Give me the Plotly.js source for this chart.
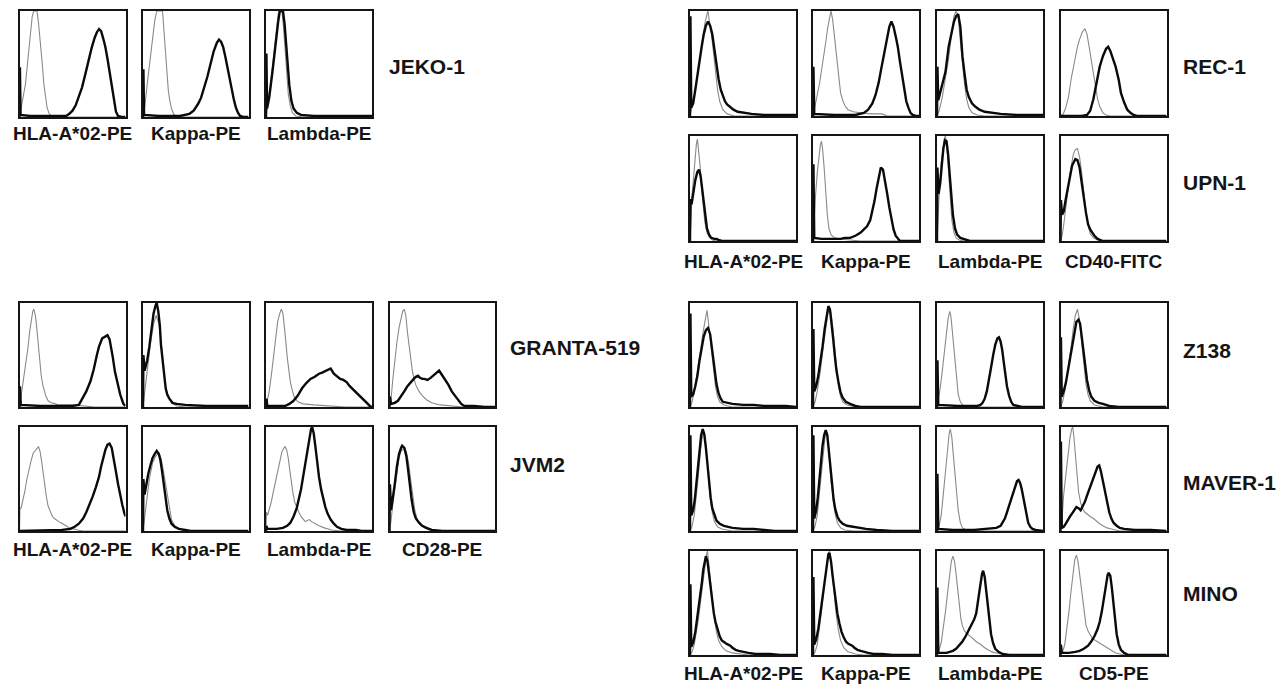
<!DOCTYPE html>
<html>
<head>
<meta charset="utf-8">
<script src="https://cdn.plot.ly/plotly-3.0.1.min.js"></script>
<style>html,body{margin:0;padding:0;background:#fff;}#chart{width:1286px;height:685px;}</style>
</head>
<body>
<div id="chart"></div>
<script>
// ---------- DATA: histogram traces, [fluorescence %, relative count %] ----------
// JEKO-1
const JEKO1_HLA_ISO = [[0,0],[1.5,8],[3,18],[5.6,31],[8,55],[10,79],[12,95],[13.5,100],[16.5,100],[18,88],[19.7,72],[21.5,50],[23,31],[24.5,18],[26,9],[28,3],[30,1],[40,0],[100,0]];
const JEKO1_HLA_STAIN = [[0,0],[0.4,47],[1,2],[10,1],[30,1],[44,1],[47,3],[50,6],[53,11],[56,19],[59,28],[62,40],[65,54],[68,65],[71,75],[73,80],[75,83],[77,81],[79,74],[81,66],[83,55],[85,42],[87,28],[89,14],[91,5],[93,1],[96,0],[100,0]];
const JEKO1_KAPPA_ISO = [[0,0],[1.5,8],[4,31],[6,50],[8.5,69],[11,90],[13,100],[18.5,100],[20,80],[21,63],[22.5,45],[24,25],[25.5,15],[27,8],[29,3],[31,1],[40,0],[100,0]];
const JEKO1_KAPPA_STAIN = [[0,0],[0.4,45],[1,2],[15,1],[35,1],[40,2],[44,3],[48,6],[52,12],[55,18],[58,27],[61,38],[64,50],[67,62],[70,70],[72,73],[74,71],[76,66],[78,57],[80,48],[82,38],[84,27],[86,17],[88,9],[90,4],[92,1],[95,0],[100,0]];
const JEKO1_LAMBDA_ISO = [[0,0],[1.5,10],[4,30],[7,55],[9.5,80],[11.5,97],[12.5,100],[15,100],[16.5,85],[18,62],[19.5,40],[21,22],[23,10],[25,4],[28,1],[35,0],[100,0]];
const JEKO1_LAMBDA_STAIN = [[0,0],[0.4,60],[1,8],[3,18],[6,42],[9,70],[11.5,90],[13,100],[16,100],[17.5,88],[19,68],[20.5,48],[22,30],[24,15],[26,8],[29,4],[33,2],[45,1],[70,1],[100,1]];
// REC-1
const REC1_HLA_ISO = [[0,0],[2,8],[4,18],[7,38],[10,60],[12,75],[14,88],[16,97],[17,100],[18,92],[20,80],[22,62],[24,42],[26,25],[28,14],[31,6],[35,2],[42,0],[100,0]];
const REC1_HLA_STAIN = [[0,0],[0.4,95],[1.2,8],[3,12],[5,25],[7,40],[9,55],[11,66],[13,78],[15,86],[17,90],[19,86],[21,78],[23,62],[25,47],[27,35],[29,25],[31,19],[33,14],[35,11],[38,8],[41,6],[45,4],[50,3],[58,2],[70,1],[100,1]];
const REC1_KAPPA_ISO = [[0,0],[2,12],[4,20],[6,30],[8,42],[10,58],[12,70],[14,85],[16,96],[17,100],[18.5,92],[20,78],[22,57],[24,36],[26,22],[28,15],[30,10],[33,6],[38,4],[45,3],[55,2],[65,2],[70,0],[100,0]];
const REC1_KAPPA_STAIN = [[0,0],[0.4,47],[1.2,2],[20,1],[40,1],[48,3],[52,6],[56,12],[59,20],[62,32],[64,43],[66,54],[68,66],[70,76],[72,85],[74,90],[76,85],[78,76],[80,66],[82,52],[84,38],[86,24],[88,14],[90,8],[92,3],[94,1],[97,0],[100,0]];
const REC1_LAMBDA_ISO = [[0,0],[2,5],[5,18],[8,35],[11,55],[14,80],[16,95],[18,100],[20,95],[22,72],[24,50],[26,30],[28,16],[30,8],[33,3],[38,1],[45,0],[100,0]];
const REC1_LAMBDA_STAIN = [[0,0],[0.4,47],[1.2,15],[3,22],[6,32],[8,42],[11,66],[14,80],[16,90],[18,95],[20,97],[22,85],[24,57],[26,40],[28,25],[30,18],[33,12],[36,9],[40,6],[45,4],[52,3],[60,2],[75,1],[100,1]];
const REC1_CD40_ISO = [[0,0],[2.6,2],[5,8],[7.5,18],[10,35],[13,52],[16,66],[18,73],[20.5,80],[23,83],[25,78],[27,66],[29,54],[31,40],[33,27],[35,16],[37,9],[40,3],[43,1],[47,0],[100,0]];
const REC1_CD40_STAIN = [[0,0],[20,0],[25,1],[28,5],[31,16],[34,30],[37,47],[40,57],[43,64],[45,66],[47,62],[50,53],[52,47],[55,34],[57,22],[60,13],[63,6],[66,3],[69,1],[72,0],[100,0]];
// UPN-1
const UPN1_HLA_ISO = [[0,0],[1,25],[2,45],[3.5,62],[5,82],[6,92],[7,97],[8,88],[9.5,72],[11,50],[12.5,32],[14,18],[16,8],[18,4],[21,1],[25,0],[100,0]];
const UPN1_HLA_STAIN = [[0,0],[0.4,40],[1.5,35],[3,45],[5,58],[7,66],[8.5,68],[10,62],[11.5,50],[13,35],[14.5,22],[16,12],[18,6],[20,3],[23,2],[25,2],[27,1],[30,0],[100,0]];
const UPN1_KAPPA_ISO = [[0,0],[1,20],[2.5,45],[4,65],[5.5,82],[7,92],[8,95],[9,88],[10.5,70],[12,45],[13.5,25],[15,12],[17,6],[20,3],[25,2],[35,1],[45,0],[100,0]];
const UPN1_KAPPA_STAIN = [[0,0],[0.4,73],[1.2,3],[8,2],[20,2],[26,2],[30,3],[35,3],[40,5],[45,8],[48,11],[51,14],[54,20],[56,28],[58,38],[60,50],[62,62],[64,70],[66,68],[68,58],[70,45],[72,32],[74,20],[76,11],[78,5],[80,2],[82,0],[100,0]];
const UPN1_LAMBDA_ISO = [[0,0],[1,30],[2.5,55],[4,75],[5.5,90],[7,98],[8,100],[9.5,88],[11,65],[12.5,40],[14,20],[16,8],[18,3],[21,1],[25,0],[100,0]];
const UPN1_LAMBDA_STAIN = [[0,0],[0.4,70],[1.5,45],[3,55],[4.5,72],[6,88],[7.5,96],[9,95],[10.5,82],[12,62],[13.5,42],[15,25],[17,12],[19,6],[22,3],[25,2],[28,1],[31,0],[100,0]];
const UPN1_CD40_ISO = [[0,0],[1.5,5],[3,15],[6,40],[9,65],[12,82],[14,87],[16,88],[18,80],[20,65],[22,45],[24,28],[26,15],[28,7],[31,3],[35,1],[40,0],[100,0]];
const UPN1_CD40_STAIN = [[0,0],[0.4,39],[1.5,25],[3,28],[5,40],[8,58],[11,72],[14,78],[16,77],[18,70],[20,55],[22,40],[24,27],[26,16],[28,11],[30,8],[32,5],[35,2],[40,0],[100,0]];
// GRANTA-519
const GRANTA_HLA_ISO = [[0,0],[1.5,10],[3,20],[5,35],[6.5,47],[8,57],[9.5,72],[11,85],[12.5,92],[13.5,94],[15,88],[16,79],[17.5,62],[19,44],[20.5,30],[22,21],[23.5,15],[25,10],[27,6],[30,4],[34,3],[37,2],[50,2],[60,1],[71,0],[100,0]];
const GRANTA_HLA_STAIN = [[0,0],[0.4,20],[1.2,2],[20,1],[40,1],[50,1],[56,2],[60,9],[63,15],[67,25],[70,36],[73,50],[75,58],[78,66],[80,67],[82,68],[83,69],[85,65],[86,60],[88,48],[90,34],[92,24],[94,15],[95,12],[97,6],[98,3],[100,1]];
const GRANTA_KAPPA_ISO = [[0,0],[2,15],[4,35],[7,60],[10,80],[12.5,88],[15,80],[16.5,68],[18,55],[20,30],[22,17],[24,10],[27,4],[32,1],[40,0],[100,0]];
const GRANTA_KAPPA_STAIN = [[0,0],[0.4,50],[1.5,35],[4,45],[6,58],[8,75],[10,90],[12,98],[13,100],[14.5,92],[16,78],[17,60],[18.5,45],[20,30],[21.5,18],[23,12],[25,8],[28,4],[32,3],[40,2],[60,1],[100,1]];
const GRANTA_LAMBDA_ISO = [[0,0],[1,5],[3,15],[5,30],[7,48],[9,65],[11,82],[13,90],[14.5,94],[16,90],[17,82],[18.5,65],[20,48],[21.5,35],[23,24],[25,15],[27,9],[30,5],[35,3],[45,2],[60,1],[75,0],[100,0]];
const GRANTA_LAMBDA_STAIN = [[0,0],[0.4,8],[1.2,1],[12,1],[18,1],[22,3],[26,6],[30,11],[34,18],[38,23],[42,27],[46,29],[50,32],[53,33],[57,35],[61,37],[64,32],[67,29],[70,27],[73,26],[76,24],[79,20],[82,17],[85,14],[88,11],[91,8],[94,4],[96,2],[98,1],[100,0]];
const GRANTA_CD28_ISO = [[0,0],[1.5,8],[3,25],[5,45],[7,62],[9,76],[11,87],[12.5,92],[14,94],[15.5,88],[17,72],[18.5,58],[20,45],[21.5,36],[23,28],[25,21],[28,15],[31,11],[35,7],[40,4],[48,2],[60,1],[70,0],[100,0]];
const GRANTA_CD28_STAIN = [[0,0],[0.4,10],[1.5,3],[5,4],[8,6],[11,10],[14,15],[17,20],[20,24],[23,27],[25,29],[27,30],[29,28],[31,27],[33,27],[36,26],[39,28],[42,31],[45,34],[47,35],[49,32],[51,29],[53,26],[56,21],[59,15],[62,11],[65,6],[68,3],[71,1],[80,1],[90,0],[100,0]];
// JVM2
const JVM2_HLA_ISO = [[0,0],[0.4,22],[1.5,22],[3,28],[5,38],[7,50],[9,60],[11,68],[13,75],[15,78],[17,80],[18,81],[19.5,76],[21,66],[22.5,54],[24,42],[25.5,32],[27,24],[29,18],[31,14],[33,12],[35,10],[37,9],[39,8],[41,7],[44,5],[47,3],[50,2],[55,1],[60,0],[100,0]];
const JVM2_HLA_STAIN = [[0,0],[40,1],[48,2],[52,4],[56,7],[60,12],[63,18],[66,25],[69,33],[72,42],[75,52],[77,62],[79,70],[81,78],[83,83],[85,84],[87,80],[89,70],[91,57],[93,45],[95,34],[97,25],[99,17],[100,14]];
const JVM2_KAPPA_ISO = [[0,0],[1.5,12],[3,28],[6,50],[9,65],[12,72],[15,75],[17,70],[19,60],[21,48],[23,32],[25,20],[27,11],[30,5],[34,2],[40,0],[100,0]];
const JVM2_KAPPA_STAIN = [[0,0],[0.4,50],[1.5,35],[3,45],[5,55],[7,63],[9,70],[11,74],[13,77],[15,74],[16.5,68],[18,58],[19.5,45],[21,33],[23,20],[25,12],[27,7],[30,4],[34,2],[40,1],[45,0],[100,0]];
const JVM2_LAMBDA_ISO = [[0,0],[0.4,18],[1.5,15],[3,20],[5,28],[7,38],[9,48],[11,58],[13,68],[15,76],[17,80],[18,81],[19.5,78],[21,70],[22.5,58],[24,46],[25.5,36],[27,28],[29,22],[31,18],[33,14],[35,11],[37,9],[39,10],[41,11],[43,9],[46,7],[50,5],[55,3],[62,1],[70,0],[100,0]];
const JVM2_LAMBDA_STAIN = [[0,0],[0.4,5],[1.2,2],[10,2],[16,3],[20,5],[23,8],[26,14],[29,22],[31,30],[33,40],[35,52],[37,64],[39,78],[41,90],[42.5,98],[43.5,100],[45,94],[46.5,82],[48,66],[50,52],[52,40],[54,30],[56,23],[58,17],[61,11],[64,7],[67,4],[71,2],[76,1],[85,1],[90,0],[100,0]];
const JVM2_CD28_ISO = [[0,0],[1.5,10],[3,25],[5,42],[7,58],[9,70],[11,77],[13,79],[14.5,80],[16,76],[18,66],[20,50],[22,34],[24,20],[26,12],[29,6],[33,3],[38,1],[45,0],[100,0]];
const JVM2_CD28_STAIN = [[0,0],[0.4,45],[1.5,20],[3,30],[5,45],[7,62],[9,74],[11,80],[12,82],[14,80],[16,72],[17.5,60],[19,45],[21,30],[23,18],[25,12],[28,8],[31,5],[35,3],[40,1],[50,0],[100,0]];
// Z138
const Z138_HLA_ISO = [[0,0],[2,5],[4,15],[6,27],[8,40],[10,55],[12,70],[14,84],[15,90],[16,93],[17,85],[18,75],[20,55],[22,35],[24,20],[26,10],[28,5],[32,2],[40,0],[100,0]];
const Z138_HLA_STAIN = [[0,0],[0.4,90],[1.2,10],[3,12],[5,20],[7,30],[9,45],[11,58],[13,68],[15,74],[17,76],[19,70],[21,55],[23,38],[25,22],[27,13],[29,8],[31,5],[35,4],[40,3],[50,2],[60,2],[70,1],[90,1],[100,0]];
const Z138_KAPPA_ISO = [[0,0],[2,5],[4,15],[7,35],[10,60],[12,78],[14,90],[16,95],[17,90],[18.5,78],[20,60],[22,38],[24,20],[26,10],[28,5],[32,2],[40,0],[100,0]];
const Z138_KAPPA_STAIN = [[0,0],[0.4,75],[1.2,15],[3,20],[5,30],[7,42],[9,58],[11,75],[13,88],[14.5,97],[16,94],[17.5,82],[19,66],[20.5,50],[22,36],[24,24],[26,14],[28,9],[31,5],[35,3],[40,1],[45,0],[100,0]];
const Z138_LAMBDA_ISO = [[0,0],[1.5,8],[3,18],[5,35],[7,55],[9,72],[10.5,85],[12,92],[13,88],[14,78],[15.5,60],[17,40],[18.5,24],[20,12],[22,5],[25,1],[30,0],[100,0]];
const Z138_LAMBDA_STAIN = [[0,0],[0.4,45],[1.2,2],[20,1],[38,1],[41,2],[43,4],[45,8],[47,15],[49,25],[51,38],[53,50],[55,60],[57,66],[58.5,67],[60,63],[61.5,55],[63,43],[64.5,30],[66,20],[68,11],[70,5],[72,2],[75,1],[80,0],[100,0]];
const Z138_CD5_ISO = [[0,0],[2,5],[4,15],[6,28],[8,42],[10,58],[12,75],[14,88],[16,94],[17.5,86],[19,72],[20.5,56],[22,38],[24,22],[26,12],[28,6],[32,2],[40,0],[100,0]];
const Z138_CD5_STAIN = [[0,0],[0.4,67],[1.2,10],[3,15],[5,23],[7,35],[9,50],[11,62],[13,74],[15,82],[17,84],[18.5,80],[20,68],[21.5,55],[23,40],[25,26],[27,16],[29,10],[32,6],[36,4],[40,3],[46,1],[55,0],[100,0]];
// MAVER-1
const MAVER1_HLA_ISO = [[0,0],[2,5],[4,15],[6,32],[8,55],[10,78],[11.5,90],[13,95],[14.5,88],[16,70],[17.5,50],[19,32],[21,18],[23,9],[26,4],[30,2],[40,0],[100,0]];
const MAVER1_HLA_STAIN = [[0,0],[0.4,92],[1.2,15],[3,20],[4.5,30],[6,45],[7.5,62],[9,80],[10.5,92],[12,98],[13.5,93],[15,80],[16.5,62],[18,45],[19.5,32],[21,22],[23,15],[25,10],[28,7],[32,5],[36,4],[40,3],[50,2],[60,2],[70,1],[80,0],[100,0]];
const MAVER1_KAPPA_ISO = [[0,0],[2,5],[4,15],[6,35],[8,60],[10,82],[11.5,92],[12.5,95],[14,88],[15.5,70],[17,48],[19,30],[21,16],[23,8],[26,3],[30,1],[38,0],[100,0]];
const MAVER1_KAPPA_STAIN = [[0,0],[0.4,92],[1.2,12],[3,20],[4.5,32],[6,50],[7.5,68],[9,82],[10.5,92],[12,97],[13.5,92],[15,76],[16.5,58],[18,42],[19.5,30],[21,21],[23,14],[25,10],[28,7],[32,5],[37,4],[42,3],[50,2],[60,1],[75,0],[100,0]];
const MAVER1_LAMBDA_ISO = [[0,0],[2,5],[4,15],[6,35],[8,60],[10,82],[11.5,94],[12.5,98],[14,90],[15.5,72],[17,52],[18.5,35],[20,20],[22,8],[24,3],[28,1],[35,0],[100,0]];
const MAVER1_LAMBDA_STAIN = [[0,0],[0.4,55],[1.2,2],[15,1],[35,1],[45,2],[52,2],[56,3],[60,5],[62,8],[64,12],[66,18],[68,24],[70,31],[72,38],[74,44],[75.5,48],[77,49],[78.5,46],[80,40],[81.5,32],[83,22],[84.5,14],[86,8],[88,4],[90,2],[93,1],[100,0]];
const MAVER1_CD5_ISO = [[0,0],[1.5,12],[3,35],[5,55],[7,75],[9,90],[10.5,98],[11.5,100],[12.5,92],[14,75],[15.5,55],[17,38],[19,27],[21,21],[23,18],[25,16],[28,14],[31,12],[34,9],[37,7],[40,5],[44,3],[48,2],[52,1],[56,0],[100,0]];
const MAVER1_CD5_STAIN = [[0,0],[0.4,86],[1.2,3],[3,4],[5,7],[7,11],[9,14],[11,17],[13,20],[15,23],[17,22],[19,20],[21,24],[23,28],[25,34],[27,40],[29,45],[31,50],[33,56],[35,62],[36.5,63],[38,58],[40,48],[42,37],[44,26],[46,18],[48,12],[50,8],[53,5],[56,3],[60,2],[70,1],[85,1],[95,0],[100,0]];
// MINO
const MINO_HLA_ISO = [[0,0],[2,3],[4,10],[6,22],[8,35],[10,52],[12,70],[14,88],[15.5,96],[16.5,100],[18,85],[19.5,68],[21,52],[23,35],[25,22],[27,14],[30,8],[34,4],[40,2],[48,1],[55,0],[100,0]];
const MINO_HLA_STAIN = [[0,0],[0.4,68],[1.2,8],[3,12],[5,22],[7,36],[9,52],[11,68],[12.5,82],[14,92],[15,95],[16.5,90],[18,78],[19.5,64],[21,50],[22.5,40],[24,32],[26,24],[28,18],[30,14],[32,12],[34,11],[36,10],[38,9],[40,7],[43,5],[46,4],[50,3],[55,2],[62,1],[75,1],[85,0],[100,0]];
const MINO_KAPPA_ISO = [[0,0],[2,3],[4,10],[6,25],[8,42],[10,62],[12,80],[14,93],[15.5,100],[17,92],[18.5,75],[20,56],[22,38],[24,24],[26,14],[29,7],[33,3],[40,1],[48,0],[100,0]];
const MINO_KAPPA_STAIN = [[0,0],[0.4,75],[1.2,10],[3,15],[5,25],[7,40],[9,58],[11,75],[13,90],[14.5,97],[15.5,98],[17,90],[18.5,76],[20,62],[21.5,50],[23,40],[25,30],[27,22],[29,17],[31,13],[33,11],[35,10],[37,9],[39,7],[42,5],[45,4],[48,3],[52,2],[57,1],[65,1],[75,0],[100,0]];
const MINO_LAMBDA_ISO = [[0,0],[2,5],[4,12],[6,25],[8,42],[10,60],[12,80],[13.5,90],[15,95],[16.5,90],[18,78],[19.5,62],[21,46],[22.5,35],[24,28],[26,23],[28,21],[30,19],[32,18],[34,16],[36,14],[38,12],[40,11],[42,9],[45,7],[48,5],[52,3],[56,2],[60,1],[65,0],[100,0]];
const MINO_LAMBDA_STAIN = [[0,0],[0.4,65],[1.2,2],[5,2],[9,2],[12,3],[15,4],[18,6],[21,9],[24,13],[27,18],[30,24],[33,30],[35,34],[37,40],[39,52],[41,68],[42.5,78],[43.5,81],[45,75],[46.5,62],[48,45],[49.5,30],[51,20],[53,11],[55,6],[58,3],[62,1],[68,0],[100,0]];
const MINO_CD5_ISO = [[0,0],[2,3],[4,10],[6,25],[8,42],[10,62],[12,80],[13.5,92],[15,96],[16.5,90],[18,78],[19.5,65],[21,50],[22.5,38],[24,29],[26,23],[28,19],[30,16],[33,14],[36,12],[39,10],[42,8],[45,6],[48,4],[52,2],[56,1],[60,0],[100,0]];
const MINO_CD5_STAIN = [[0,0],[0.4,10],[1.2,2],[8,2],[14,3],[18,4],[22,6],[26,9],[29,13],[32,18],[35,25],[37,32],[39,42],[41,55],[43,68],[44.5,77],[45.5,79],[47,76],[48.5,64],[50,48],[51.5,32],[53,20],[55,10],[57,5],[60,2],[64,0],[100,0]];

// Text
const MARKER_LABELS_3 = ["HLA-A*02-PE", "Kappa-PE", "Lambda-PE"];
const MARKER_LABELS_LEFT = ["HLA-A*02-PE", "Kappa-PE", "Lambda-PE", "CD28-PE"];
const MARKER_LABELS_UPN = ["HLA-A*02-PE", "Kappa-PE", "Lambda-PE", "CD40-FITC"];
const MARKER_LABELS_MINO = ["HLA-A*02-PE", "Kappa-PE", "Lambda-PE", "CD5-PE"];
const CELL_LINES = ["JEKO-1", "REC-1", "UPN-1", "GRANTA-519", "JVM2", "Z138", "MAVER-1", "MINO"];

// ---------- LAYOUT (pixel geometry) ----------
const W = 1286, H = 685;
const COLS_L = [[19.5,125.5],[143,248.5],[266,372],[389.5,495]];
const COLS_R = [[690,796],[813,919],[937,1043],[1060.5,1166.5]];
const ROW = {JEKO:[11,117], GRANTA:[303,407], JVM2:[427,531], REC:[11,116], UPN:[136,241], Z138:[303,407], MAVER:[427,531], MINO:[551,655]};

const panels = [
  {row:"JEKO", cols:COLS_L, c:0, iso:JEKO1_HLA_ISO, st:JEKO1_HLA_STAIN},
  {row:"JEKO", cols:COLS_L, c:1, iso:JEKO1_KAPPA_ISO, st:JEKO1_KAPPA_STAIN},
  {row:"JEKO", cols:COLS_L, c:2, iso:JEKO1_LAMBDA_ISO, st:JEKO1_LAMBDA_STAIN},
  {row:"GRANTA", cols:COLS_L, c:0, iso:GRANTA_HLA_ISO, st:GRANTA_HLA_STAIN},
  {row:"GRANTA", cols:COLS_L, c:1, iso:GRANTA_KAPPA_ISO, st:GRANTA_KAPPA_STAIN},
  {row:"GRANTA", cols:COLS_L, c:2, iso:GRANTA_LAMBDA_ISO, st:GRANTA_LAMBDA_STAIN},
  {row:"GRANTA", cols:COLS_L, c:3, iso:GRANTA_CD28_ISO, st:GRANTA_CD28_STAIN},
  {row:"JVM2", cols:COLS_L, c:0, iso:JVM2_HLA_ISO, st:JVM2_HLA_STAIN},
  {row:"JVM2", cols:COLS_L, c:1, iso:JVM2_KAPPA_ISO, st:JVM2_KAPPA_STAIN},
  {row:"JVM2", cols:COLS_L, c:2, iso:JVM2_LAMBDA_ISO, st:JVM2_LAMBDA_STAIN},
  {row:"JVM2", cols:COLS_L, c:3, iso:JVM2_CD28_ISO, st:JVM2_CD28_STAIN},
  {row:"REC", cols:COLS_R, c:0, iso:REC1_HLA_ISO, st:REC1_HLA_STAIN},
  {row:"REC", cols:COLS_R, c:1, iso:REC1_KAPPA_ISO, st:REC1_KAPPA_STAIN},
  {row:"REC", cols:COLS_R, c:2, iso:REC1_LAMBDA_ISO, st:REC1_LAMBDA_STAIN},
  {row:"REC", cols:COLS_R, c:3, iso:REC1_CD40_ISO, st:REC1_CD40_STAIN},
  {row:"UPN", cols:COLS_R, c:0, iso:UPN1_HLA_ISO, st:UPN1_HLA_STAIN},
  {row:"UPN", cols:COLS_R, c:1, iso:UPN1_KAPPA_ISO, st:UPN1_KAPPA_STAIN},
  {row:"UPN", cols:COLS_R, c:2, iso:UPN1_LAMBDA_ISO, st:UPN1_LAMBDA_STAIN},
  {row:"UPN", cols:COLS_R, c:3, iso:UPN1_CD40_ISO, st:UPN1_CD40_STAIN},
  {row:"Z138", cols:COLS_R, c:0, iso:Z138_HLA_ISO, st:Z138_HLA_STAIN},
  {row:"Z138", cols:COLS_R, c:1, iso:Z138_KAPPA_ISO, st:Z138_KAPPA_STAIN},
  {row:"Z138", cols:COLS_R, c:2, iso:Z138_LAMBDA_ISO, st:Z138_LAMBDA_STAIN},
  {row:"Z138", cols:COLS_R, c:3, iso:Z138_CD5_ISO, st:Z138_CD5_STAIN},
  {row:"MAVER", cols:COLS_R, c:0, iso:MAVER1_HLA_ISO, st:MAVER1_HLA_STAIN},
  {row:"MAVER", cols:COLS_R, c:1, iso:MAVER1_KAPPA_ISO, st:MAVER1_KAPPA_STAIN},
  {row:"MAVER", cols:COLS_R, c:2, iso:MAVER1_LAMBDA_ISO, st:MAVER1_LAMBDA_STAIN},
  {row:"MAVER", cols:COLS_R, c:3, iso:MAVER1_CD5_ISO, st:MAVER1_CD5_STAIN},
  {row:"MINO", cols:COLS_R, c:0, iso:MINO_HLA_ISO, st:MINO_HLA_STAIN},
  {row:"MINO", cols:COLS_R, c:1, iso:MINO_KAPPA_ISO, st:MINO_KAPPA_STAIN},
  {row:"MINO", cols:COLS_R, c:2, iso:MINO_LAMBDA_ISO, st:MINO_LAMBDA_STAIN},
  {row:"MINO", cols:COLS_R, c:3, iso:MINO_CD5_ISO, st:MINO_CD5_STAIN}
];

const FONT = "Liberation Sans, Arial, Helvetica, sans-serif";
const data = [];
const layout = {
  width: W, height: H, margin: {l:0, r:0, t:0, b:0},
  paper_bgcolor: "#ffffff", plot_bgcolor: "#ffffff",
  showlegend: false, annotations: []
};

panels.forEach((p, i) => {
  const n = i + 1;
  const xa = "x" + n, ya = "y" + n;
  const [l, r] = p.cols[p.c];
  const [t, b] = ROW[p.row];
  const axCommon = {range:[0,100], showgrid:false, zeroline:false, showticklabels:false, ticks:"",
    showline:true, mirror:true, linecolor:"#151515", linewidth:2, fixedrange:true};
  layout["xaxis" + n] = Object.assign({}, axCommon, {domain:[l/W, r/W], anchor: ya});
  layout["yaxis" + n] = Object.assign({}, axCommon, {domain:[1 - b/H, 1 - t/H], anchor: xa});
  data.push({type:"scatter", mode:"lines", xaxis:xa, yaxis:ya,
    x: p.iso.map(d => d[0]), y: p.iso.map(d => d[1]),
    line:{color:"#8a8a8a", width:1.1}, hoverinfo:"skip"});
  data.push({type:"scatter", mode:"lines", xaxis:xa, yaxis:ya,
    x: p.st.map(d => d[0]), y: p.st.map(d => d[1]),
    line:{color:"#0a0a0a", width:2.4}, hoverinfo:"skip"});
});

function addText(text, px, py, size, anchor) {
  layout.annotations.push({text: "<b>" + text + "</b>", xref:"paper", yref:"paper",
    x: px / W, y: 1 - py / H, xanchor: anchor, yanchor:"middle", showarrow:false,
    font:{family: FONT, size: size, color:"#151515"}});
}
const mid = c => (c[0] + c[1]) / 2;
MARKER_LABELS_3.forEach((t, k) => addText(t, mid(COLS_L[k]), 133, 19, "center"));
MARKER_LABELS_LEFT.forEach((t, k) => addText(t, mid(COLS_L[k]), 549, 19, "center"));
MARKER_LABELS_UPN.forEach((t, k) => addText(t, mid(COLS_R[k]), 261, 19, "center"));
MARKER_LABELS_MINO.forEach((t, k) => addText(t, mid(COLS_R[k]), 673, 19, "center"));

const CELL_POS = [[387,67],[1181,67],[1181,183],[508,348],[508,464],[1181,350],[1181,482],[1181,593]];
CELL_LINES.forEach((t, k) => addText(t, CELL_POS[k][0], CELL_POS[k][1], 21, "left"));

Plotly.newPlot("chart", data, layout, {staticPlot:true, displayModeBar:false});
</script>
</body>
</html>
